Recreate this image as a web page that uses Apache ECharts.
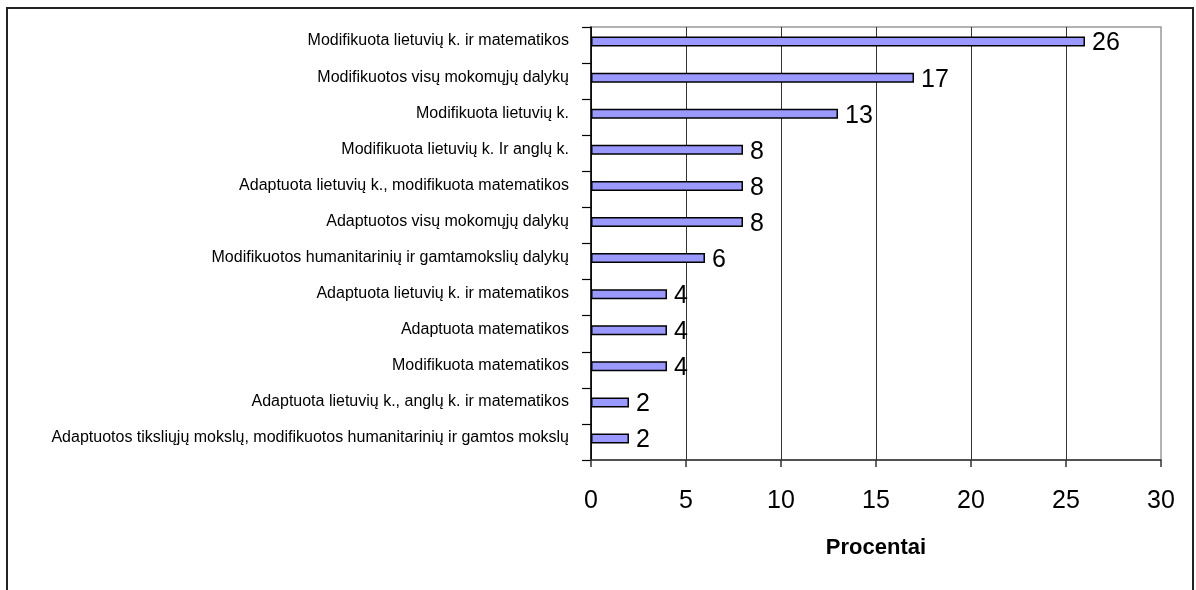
<!DOCTYPE html>
<html>
<head>
<meta charset="utf-8">
<script src="https://cdn.jsdelivr.net/npm/echarts@6/dist/echarts.min.js"></script>
<style>
  html, body { margin: 0; padding: 0; background: #fff; }
  #chart { width: 1196px; height: 590px; }
</style>
</head>
<body>
<div id="chart"></div>
<script>
// Program types, listed from top to bottom
const categories = [
  'Modifikuota lietuvių k. ir matematikos',
  'Modifikuotos visų mokomųjų dalykų',
  'Modifikuota lietuvių k.',
  'Modifikuota lietuvių k. Ir anglų k.',
  'Adaptuota lietuvių k., modifikuota matematikos',
  'Adaptuotos visų mokomųjų dalykų',
  'Modifikuotos humanitarinių ir gamtamokslių dalykų',
  'Adaptuota lietuvių k. ir matematikos',
  'Adaptuota matematikos',
  'Modifikuota matematikos',
  'Adaptuota lietuvių k., anglų k. ir matematikos',
  'Adaptuotos tiksliųjų mokslų, modifikuotos humanitarinių ir gamtos mokslų'
];
// Share of pupils, %
const percents = [26, 17, 13, 8, 8, 8, 6, 4, 4, 4, 2, 2];
const axisMin = 0;
const axisMax = 30;
const axisStep = 5;
const axisTitle = 'Procentai';

const font = "'Liberation Sans', Arial, sans-serif";
const chart = echarts.init(document.getElementById('chart'));

chart.setOption({
  animation: false,
  backgroundColor: '#fff',
  graphic: [{
    type: 'rect',
    shape: { x: 7, y: 8, width: 1186, height: 620 },
    style: { fill: 'none', stroke: '#222', lineWidth: 2 },
    silent: true
  }],
  grid: {
    left: 591, right: 35, top: 27, bottom: 130,
    show: true, borderColor: '#999', borderWidth: 1.5,
    backgroundColor: 'transparent'
  },
  xAxis: {
    type: 'value',
    min: axisMin, max: axisMax, interval: axisStep,
    name: axisTitle,
    nameLocation: 'middle',
    nameGap: 77,
    nameTextStyle: { fontFamily: font, fontSize: 22, fontWeight: 'bold', color: '#000' },
    axisLine: { show: true, lineStyle: { color: '#333', width: 1.5 } },
    axisTick: { show: true, length: 7, lineStyle: { color: '#333', width: 1.5 } },
    axisLabel: { fontFamily: font, fontSize: 25, color: '#000', margin: 29 },
    splitLine: { show: true, showMaxLine: false, lineStyle: { color: '#333', width: 1 } }
  },
  yAxis: {
    type: 'category',
    inverse: true,
    data: categories,
    axisLine: { show: true, lineStyle: { color: '#000', width: 1.5 } },
    axisTick: { show: true, length: 9, lineStyle: { color: '#000', width: 1.2 } },
    axisLabel: {
      fontFamily: font, fontSize: 16, color: '#000', margin: 22,
      verticalAlign: 'bottom', lineHeight: 8
    },
    splitLine: { show: false }
  },
  series: [{
    type: 'bar',
    data: percents,
    barWidth: 10,
    barGap: '-30%',
    itemStyle: { color: '#9999ff', borderColor: '#000', borderWidth: 1.5 },
    label: {
      show: true, position: 'right', distance: 7, offset: [0, 2],
      fontFamily: font, fontSize: 25, color: '#000'
    }
  }, {
    // empty companion series keeps the bar in the upper half of each row
    type: 'bar',
    data: [],
    barWidth: 10
  }]
});
</script>
</body>
</html>
